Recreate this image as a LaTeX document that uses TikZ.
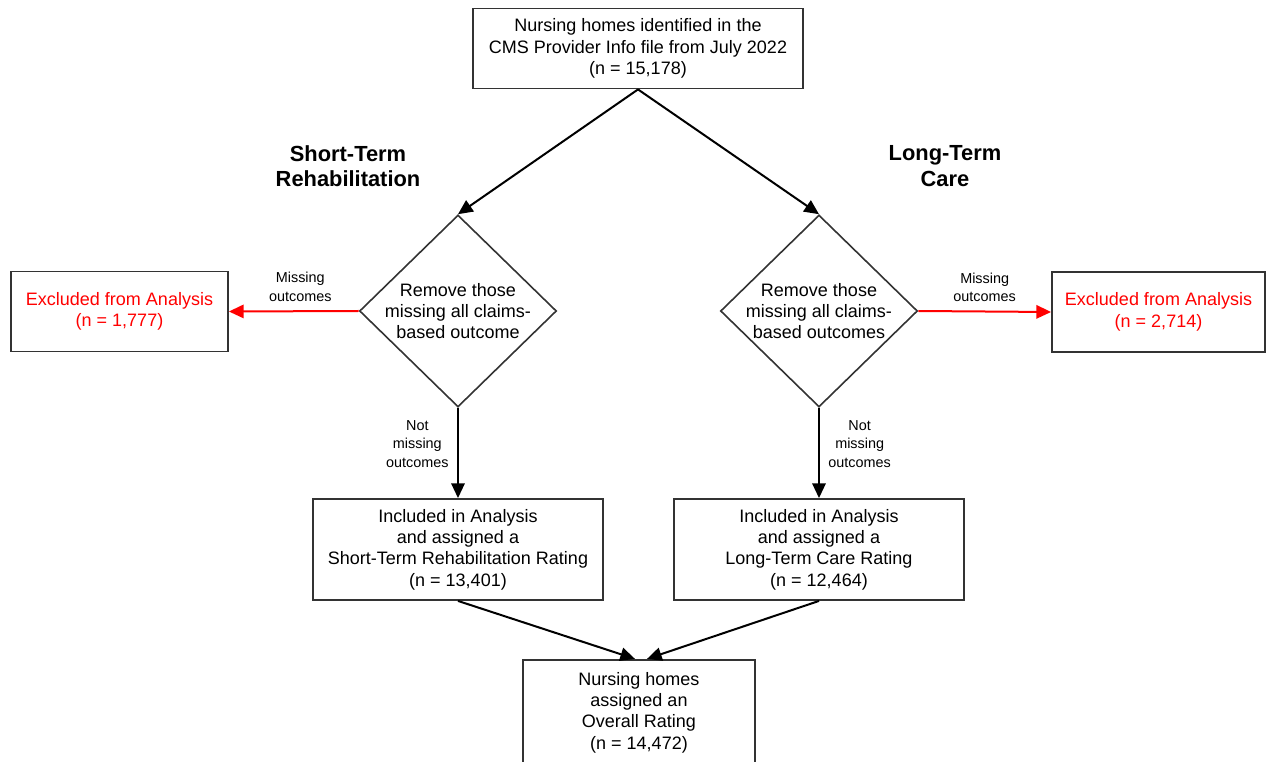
\documentclass[tikz,border=0pt]{standalone}
\usepackage{fontspec}
\setmainfont{Liberation Sans}
\usetikzlibrary{shapes.geometric,arrows.meta}

\begin{document}
\begin{tikzpicture}[x=0.75pt, y=-0.75pt,
    box/.style={draw=black!80, line width=1.4pt, align=center, inner sep=0pt,
        font=\fontsize{13.5}{16}\selectfont},
    decision/.style={diamond, draw=black!80, line width=1.2pt, align=center, inner sep=-4pt,
        minimum width=147.75pt, minimum height=144pt, font=\fontsize{13.5}{16}\selectfont},
    arr/.style={line width=1.5pt, -{Triangle[length=11pt, width=10pt]}},
    note/.style={align=center, font=\fontsize{10.8}{14}\selectfont},
    heading/.style={align=center, font=\bfseries\fontsize{16.4}{19}\selectfont}]
    \useasboundingbox (0,0) rectangle (1267,762);

    % top box and the two branches
    \node[box, minimum width=247.5pt, minimum height=60pt] (homes) at (638,48.5)
        {Nursing homes identified in the\\CMS Provider Info file from July 2022\\(n = 15,178)};
    \node[heading] (strhead) at (348,166) {Short-Term\\Rehabilitation};
    \node[heading] (ltchead) at (945,166) {Long-Term\\Care};

    % decisions
    \node[decision] (strcheck) at (458,311) {Remove those\\missing all claims-\\based outcome};
    \node[decision] (ltccheck) at (819,311) {Remove those\\missing all claims-\\based outcomes};

    % exclusions
    \node[box, red, draw=black!80, minimum width=162.75pt, minimum height=60pt] (strexcl) at (119.5,311.5)
        {Excluded from Analysis\\(n = 1,777)};
    \node[box, red, draw=black!80, minimum width=159.75pt, minimum height=60pt] (ltcexcl) at (1158.5,312)
        {Excluded from Analysis\\(n = 2,714)};

    % included
    \node[box, minimum width=217.5pt, minimum height=75.75pt] (strincl) at (458,549.5)
        {Included in Analysis\\and assigned a\\Short-Term Rehabilitation Rating\\(n = 13,401)};
    \node[box, minimum width=217.5pt, minimum height=75.75pt] (ltcincl) at (819,549.5)
        {Included in Analysis\\and assigned a\\Long-Term Care Rating\\(n = 12,464)};

    % overall
    \node[box, minimum width=174pt, minimum height=79pt] (overall) at (639,712.5)
        {Nursing homes\\assigned an\\Overall Rating\\(n = 14,472)};

    % connectors
    \draw[arr] (homes.south) -- (strcheck.north);
    \draw[arr] (homes.south) -- (ltccheck.north);

    \draw[arr, red] (strcheck.west) -- (strexcl.east)
        node[note, black, above=3pt, pos=0.45] {Missing\\outcomes};
    \draw[arr, red] (ltccheck.east) -- (ltcexcl.west)
        node[note, black, above=3pt, midway] {Missing\\outcomes};

    \draw[arr] (strcheck.south) -- (strincl.north)
        node[note, left=3pt, pos=0.4] {Not\\missing\\outcomes};
    \draw[arr] (ltccheck.south) -- (ltcincl.north)
        node[note, right=3pt, pos=0.4] {Not\\missing\\outcomes};

    \draw[arr] (strincl.south) -- ([xshift=-3pt]overall.north);
    \draw[arr] (ltcincl.south) -- ([xshift=6pt]overall.north);
\end{tikzpicture}
\end{document}
